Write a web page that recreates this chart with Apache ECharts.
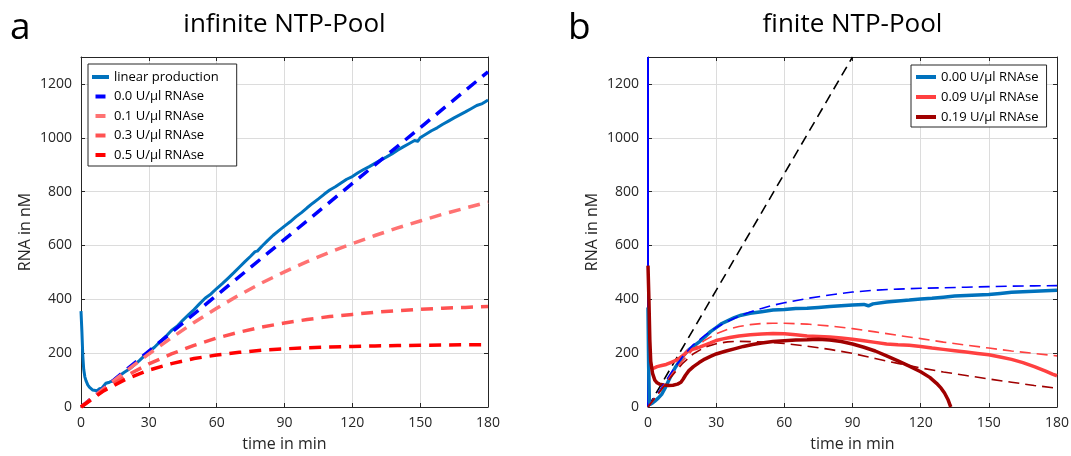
<!DOCTYPE html>
<html>
<head>
<meta charset="utf-8">
<script src="https://cdn.jsdelivr.net/npm/echarts@6/dist/echarts.min.js"></script>
<style>
  html, body { margin: 0; padding: 0; background: #ffffff; }
  #chart { width: 1071px; height: 456px; }
</style>
</head>
<body>
<div id="chart"></div>
<script>
// ---------- axis ticks ----------
const timeTicks = [0, 30, 60, 90, 120, 150, 180];
const rnaTicks = [0, 200, 400, 600, 800, 1000, 1200];

// ---------- panel a: infinite NTP pool ----------
// measured transcription (time in min, RNA in nM)
const linearProductionT = [0, 0.4, 0.8, 1.2, 1.7, 2.2, 3, 3.7, 4.5, 5.2, 6, 7, 7.6, 8.2, 8.6, 9.2, 10, 11, 12.6, 14, 15.5, 17, 19, 21.4, 23.5, 25.8, 28, 30.3, 32.5, 35, 37.5, 40, 42.5, 45, 47.5, 50, 52.5, 55, 57.5, 60, 62.5, 65, 67.5, 70, 72.5, 75, 77, 78, 80, 82.5, 85, 87.5, 90, 92.5, 95, 97.5, 100, 102.5, 105, 107.5, 110, 112.5, 115, 117.5, 120, 122.5, 125, 127.5, 130, 132.5, 135, 137.5, 140, 142.5, 145, 147.5, 149, 150, 152.5, 155, 157.5, 160, 162.5, 165, 167.5, 170, 172.5, 175, 177.5, 179, 180];
const linearProductionV = [356, 280, 190, 140, 112, 98, 82, 74, 67, 63, 61, 60, 61, 68, 74, 70, 78, 88, 92, 97, 106, 116, 128, 141, 156, 172, 190, 207, 222, 243, 262, 284, 300, 322, 342, 362, 384, 405, 420, 440, 458, 478, 498, 519, 540, 560, 577, 579, 597, 618, 638, 655, 672, 688, 706, 722, 740, 757, 773, 790, 806, 818, 832, 846, 856, 870, 882, 893, 905, 917, 928, 940, 954, 966, 978, 990, 987, 1000, 1013, 1026, 1037, 1050, 1062, 1074, 1085, 1096, 1108, 1120, 1127, 1135, 1140];

// model curves, sampled every 10 min
const modelT = [0, 10, 20, 30, 40, 50, 60, 70, 80, 90, 100, 110, 120, 130, 140, 150, 160, 170, 180];
const rnase00T = [0, 180];
const rnase00V = [0, 1245];
const rnase01V = [0, 68, 134, 197, 257, 314, 367, 416, 461, 502, 540, 575, 607, 637, 665, 691, 716, 739, 761];
const rnase03V = [0, 63, 116, 160, 197, 229, 256, 278, 297, 312, 325, 336, 344, 352, 358, 363, 367, 370, 373];
const rnase05V = [0, 60, 104, 137, 161, 180, 193, 203, 211, 216, 220, 223, 225, 227, 228, 229, 230, 231, 231];

// ---------- panel b: finite NTP pool ----------
const unlimitedT = [0, 90];
const unlimitedV = [0, 1300];
const startSpikeT = [0, 0];
const startSpikeV = [0, 1300];

const meas000T = [0, 0.3, 0.6, 1, 2, 3, 4.5, 6, 7.5, 9, 10.5, 12, 14, 16, 18, 20.5, 23, 25, 27.5, 30, 32.5, 35, 38, 41, 45, 50, 55, 60, 65, 70, 75, 80, 85, 90, 95, 97, 99, 105, 110, 115, 120, 125, 130, 135, 140, 145, 150, 155, 160, 165, 170, 175, 180];
const meas000V = [370, 150, 20, 10, 15, 22, 33, 47, 70, 97, 122, 147, 172, 195, 213, 229, 245, 260, 280, 295, 310, 320, 332, 341, 348, 354, 360, 362, 366, 367, 370, 373, 376, 379, 381, 376, 383, 390, 394, 397, 401, 404, 408, 412, 414, 416, 418, 422, 426, 428, 430, 432, 434];

const meas009T = [2, 4, 6, 8, 10, 12, 14, 16, 17.5, 19, 21, 23, 25, 27.5, 30, 33, 36, 40, 45, 50, 55, 60, 65, 70, 75, 80, 85, 90, 95, 100, 105, 110, 115, 120, 125, 130, 135, 140, 145, 150, 155, 160, 165, 170, 175, 178, 180];
const meas009V = [142, 150, 154, 158, 165, 172, 182, 195, 208, 213, 217, 223, 230, 238, 247, 253, 258, 264, 268, 271, 273, 272, 268, 264, 262, 260, 256, 252, 246, 240, 234, 231, 229, 225, 219, 214, 209, 204, 199, 194, 186, 177, 165, 150, 133, 122, 116];

const meas019T = [0, 0.4, 0.8, 1.2, 2, 3, 4, 5, 7, 9, 11, 13, 14.5, 15.5, 16.5, 18, 20, 22.5, 25, 27.5, 30, 34, 38, 42, 46, 50, 55, 60, 65, 70, 75, 80, 85, 90, 95, 100, 105, 110, 115, 120, 124, 127, 129, 130.5, 132, 133, 133.3];
const meas019V = [525, 400, 250, 170, 125, 100, 90, 85, 82, 80, 81, 85, 92, 104, 118, 135, 150, 165, 178, 188, 197, 207, 216, 225, 232, 238, 243, 246, 249, 250, 252, 249, 243, 234, 222, 208, 190, 171, 152, 131, 110, 88, 70, 52, 28, 5, 0];

const fitT = [0, 5, 10, 15, 20, 25, 30, 35, 40, 45, 50, 55, 60, 70, 80, 90, 100, 110, 120, 130, 140, 150, 160, 170, 180];
const fit000V = [0, 60, 125, 185, 232, 266, 295, 318, 337, 353, 366, 378, 387, 403, 416, 427, 434, 438, 441, 443, 445, 447, 449, 450, 451];
const fit009V = [0, 55, 115, 170, 215, 248, 272, 288, 299, 306, 310, 311, 311, 308, 301, 291, 279, 266, 254, 241, 230, 219, 208, 199, 190];
const fit019V = [0, 55, 110, 160, 198, 222, 235, 242, 244, 243, 241, 239, 236, 226, 214, 199, 180, 162, 145, 130, 117, 104, 92, 80, 70];

// ---------- helpers ----------
const zip = (ts, vs) => ts.map((t, i) => [t, vs[i]]);

const INK = '#262626';
const FONT = '"Open Sans", "Noto Sans", "DejaVu Sans", sans-serif';

function timeAxis(gridIndex, main) {
  return {
    type: 'value', gridIndex, position: main ? 'bottom' : 'top',
    min: timeTicks[0], max: timeTicks[timeTicks.length - 1], interval: 30,
    name: main ? 'time in min' : '', nameLocation: 'middle', nameGap: 29,
    nameMoveOverlap: false,
    nameTextStyle: { fontFamily: FONT, fontSize: 16, color: INK },
    axisLine: { show: true, onZero: false, lineStyle: { color: INK, width: 1 } },
    axisTick: { show: true, inside: true, length: 4, lineStyle: { color: INK, width: 1 } },
    axisLabel: { show: main, margin: 9, fontFamily: FONT, fontSize: 14, color: INK, hideOverlap: false,
                 formatter: v => String(v) },
    splitLine: { show: main, lineStyle: { color: '#dcdcdc', width: 1 } }
  };
}

function rnaAxis(gridIndex, main) {
  return {
    type: 'value', gridIndex, position: main ? 'left' : 'right',
    min: rnaTicks[0], max: 1300, interval: 200,
    name: main ? 'RNA in nM' : '', nameLocation: 'middle', nameGap: 48,
    nameMoveOverlap: false,
    nameTextStyle: { fontFamily: FONT, fontSize: 16, color: INK },
    axisLine: { show: true, onZero: false, lineStyle: { color: INK, width: 1 } },
    axisTick: { show: true, inside: true, length: 4, lineStyle: { color: INK, width: 1 } },
    axisLabel: { show: main, margin: 9, fontFamily: FONT, fontSize: 14, color: INK, showMaxLabel: false, hideOverlap: false,
                 formatter: v => String(v) },
    splitLine: { show: main, lineStyle: { color: '#dcdcdc', width: 1 } }
  };
}

function line(name, data, axis, color, width, dash, z) {
  return {
    type: 'line', name, data, xAxisIndex: axis, yAxisIndex: axis,
    showSymbol: false, symbol: 'none', smooth: false, clip: true, z: z || 2,
    lineStyle: { color, width, type: dash || 'solid', cap: 'butt', join: 'round' },
    itemStyle: { color },
    emphasis: { disabled: true }
  };
}

const legendText = { fontFamily: FONT, fontSize: 13, color: '#000', lineHeight: 16 };
const shortBar = 'path://M0,0H10V4H0Z';

const option = {
  animation: false,
  backgroundColor: '#ffffff',
  textStyle: { fontFamily: FONT },
  grid: [
    { left: 81, right: 583, top: 57, bottom: 49, outerBoundsMode: 'none', containLabel: false },
    { left: 648, right: 14, top: 57, bottom: 49, outerBoundsMode: 'none', containLabel: false }
  ],
  xAxis: [timeAxis(0, true), timeAxis(0, false), timeAxis(1, true), timeAxis(1, false)],
  yAxis: [rnaAxis(0, true), rnaAxis(0, false), rnaAxis(1, true), rnaAxis(1, false)],
  graphic: [
    { type: 'text', left: 10, top: 10, style: { text: 'a', font: '37px ' + FONT, fill: '#000' } },
    { type: 'text', left: 568, top: 10, style: { text: 'b', font: '37px ' + FONT, fill: '#000' } },
    { type: 'text', x: 284.5, y: 12, style: { text: 'infinite NTP-Pool', font: '26px ' + FONT, fill: '#000', align: 'center', verticalAlign: 'top' } },
    { type: 'text', x: 852.5, y: 12, style: { text: 'finite NTP-Pool', font: '26px ' + FONT, fill: '#000', align: 'center', verticalAlign: 'top' } }
  ],
  legend: [
    {
      left: 88, top: 64, orient: 'vertical', itemWidth: 17, itemHeight: 4, itemGap: 3.5,
      padding: [5, 18, 3, 4], borderColor: INK, borderWidth: 1, backgroundColor: '#fff',
      textStyle: legendText, selectedMode: false, itemStyle: { borderWidth: 0 },
      data: [
        { name: 'linear production', icon: 'rect' },
        { name: '0.0 U/µl RNAse', icon: shortBar },
        { name: '0.1 U/µl RNAse', icon: shortBar },
        { name: '0.3 U/µl RNAse', icon: shortBar },
        { name: '0.5 U/µl RNAse', icon: shortBar }
      ]
    },
    {
      left: 911, top: 65, orient: 'vertical', itemWidth: 20, itemHeight: 4, itemGap: 4,
      padding: [4, 8, 2, 5], borderColor: INK, borderWidth: 1, backgroundColor: '#fff',
      textStyle: legendText, selectedMode: false, itemStyle: { borderWidth: 0 },
      data: [
        { name: '0.00 U/µl RNAse', icon: 'rect' },
        { name: '0.09 U/µl RNAse', icon: 'rect' },
        { name: '0.19 U/µl RNAse', icon: 'rect' }
      ]
    }
  ],
  series: [
    // panel a
    line('linear production', zip(linearProductionT, linearProductionV), 0, '#0072bd', 3),
    line('0.0 U/µl RNAse', zip(rnase00T, rnase00V), 0, '#0000ff', 3.5, [12, 8], 3),
    line('0.1 U/µl RNAse', zip(modelT, rnase01V), 0, '#ff7272', 3.5, [12, 8], 3),
    line('0.3 U/µl RNAse', zip(modelT, rnase03V), 0, '#ff5252', 3.5, [12, 8], 3),
    line('0.5 U/µl RNAse', zip(modelT, rnase05V), 0, '#ff0000', 3.5, [12, 8], 3),
    // panel b
    line('initial fill', zip(startSpikeT, startSpikeV), 2, '#0000ff', 2),
    line('unlimited production', zip(unlimitedT, unlimitedV), 2, '#000000', 1.6, [10, 6]),
    line('0.00 U/µl RNAse', zip(meas000T, meas000V), 2, '#0072bd', 3.5),
    line('0.09 U/µl RNAse', zip(meas009T, meas009V), 2, '#ff4040', 3.5),
    line('0.19 U/µl RNAse', zip(meas019T, meas019V), 2, '#a00000', 3.5),
    line('0.00 fit', zip(fitT, fit000V), 2, '#0000ff', 1.6, [11, 6], 3),
    line('0.09 fit', zip(fitT, fit009V), 2, '#ff4040', 1.6, [11, 6], 3),
    line('0.19 fit', zip(fitT, fit019V), 2, '#a00000', 1.6, [11, 6], 3)
  ]
};

const chart = echarts.init(document.getElementById('chart'), null, { renderer: 'canvas' });
chart.setOption(option);
</script>
</body>
</html>
